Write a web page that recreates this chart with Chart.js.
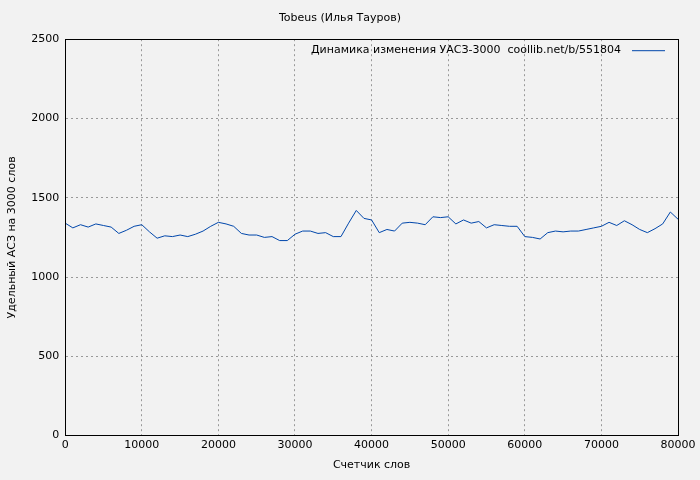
<!DOCTYPE html>
<html><head><meta charset="utf-8">
<script src="https://cdn.jsdelivr.net/npm/chart.js@4"></script>
<style>html,body{margin:0;padding:0;background:#f2f2f2}#w{width:700px;height:480px}</style>
</head><body><div id="w"><canvas id="c"></canvas></div>
<script>
const xWords = [];
for (let i = 0; i <= 80; i++) xWords.push(i * 1000);
const uasValues = [1340,1310,1330,1315,1335,1325,1315,1275,1295,1320,1330,1285,1245,1260,1255,1265,1255,1270,1290,1320,
1345,1335,1320,1275,1265,1265,1250,1255,1230,1230,1270,1290,1290,1275,1280,1255,1255,1340,1420,1370,
1360,1280,1300,1290,1340,1345,1340,1330,1380,1375,1380,1335,1360,1340,1350,1310,1330,1325,1320,1320,
1255,1250,1240,1280,1290,1285,1290,1290,1300,1310,1320,1345,1325,1355,1330,1300,1280,1305,1335,1410,1365];
const seriesLabel = 'Динамика изменения УАСЗ-3000  coollib.net/b/551804';
const chartTitle = 'Tobeus (Илья Тауров)';
const xTitle = 'Счетчик слов';
const yTitle = 'Удельный АСЗ на 3000 слов';

const font = {family:'DejaVu Sans', size:11};
const legendPlugin = {
  id:'lg',
  afterDraw(ch){
    const c=ch.ctx, a=ch.chartArea;
    c.save();
    c.strokeStyle='#000';c.lineWidth=1;
    c.strokeRect(Math.round(a.left)+0.5,Math.round(a.top)+0.5,Math.round(a.right-a.left),Math.round(a.bottom-a.top));
    c.font='11px "DejaVu Sans"';
    c.fillStyle='#000';c.textAlign='right';c.textBaseline='middle';
    const y=a.top+11;
    c.fillText(ch.data.datasets[0].label, a.right-57, y);
    c.strokeStyle='#0047ab';
    c.beginPath();c.moveTo(a.right-46,y+0.5);c.lineTo(a.right-13,y+0.5);c.stroke();
    c.restore();
  }
};
new Chart(document.getElementById('c'),{
  type:'line',
  data:{datasets:[{label:seriesLabel,data:xWords.map((x,i)=>({x,y:uasValues[i]})),
    borderColor:'#0047ab',borderWidth:1,pointRadius:0,tension:0}]},
  options:{
    responsive:true,maintainAspectRatio:false,animation:false,
    layout:{padding:{left:2,right:22,top:0,bottom:4}},
    plugins:{legend:{display:false},tooltip:{enabled:false},
      title:{display:true,text:chartTitle,color:'#000',font:{family:'DejaVu Sans',size:11,weight:'normal'},padding:{top:12,bottom:14}}},
    scales:{
      x:{type:'linear',min:0,max:80000,
        ticks:{stepSize:10000,color:'#000',font,maxRotation:0,callback:v=>String(v)},
        grid:{color:'#999',drawTicks:false},border:{display:true,color:'#000',dash:[2,3]},
        title:{display:true,text:xTitle,color:'#000',font,padding:{top:4}}},
      y:{min:0,max:2500,
        ticks:{stepSize:500,color:'#000',font,padding:6,callback:v=>String(v)},
        grid:{color:'#999',drawTicks:false},border:{color:'#000',dash:[2,3]},
        title:{display:true,text:yTitle,color:'#000',font,padding:{bottom:6}}}
    }
  },
  plugins:[legendPlugin]
});
</script>
</body></html>
